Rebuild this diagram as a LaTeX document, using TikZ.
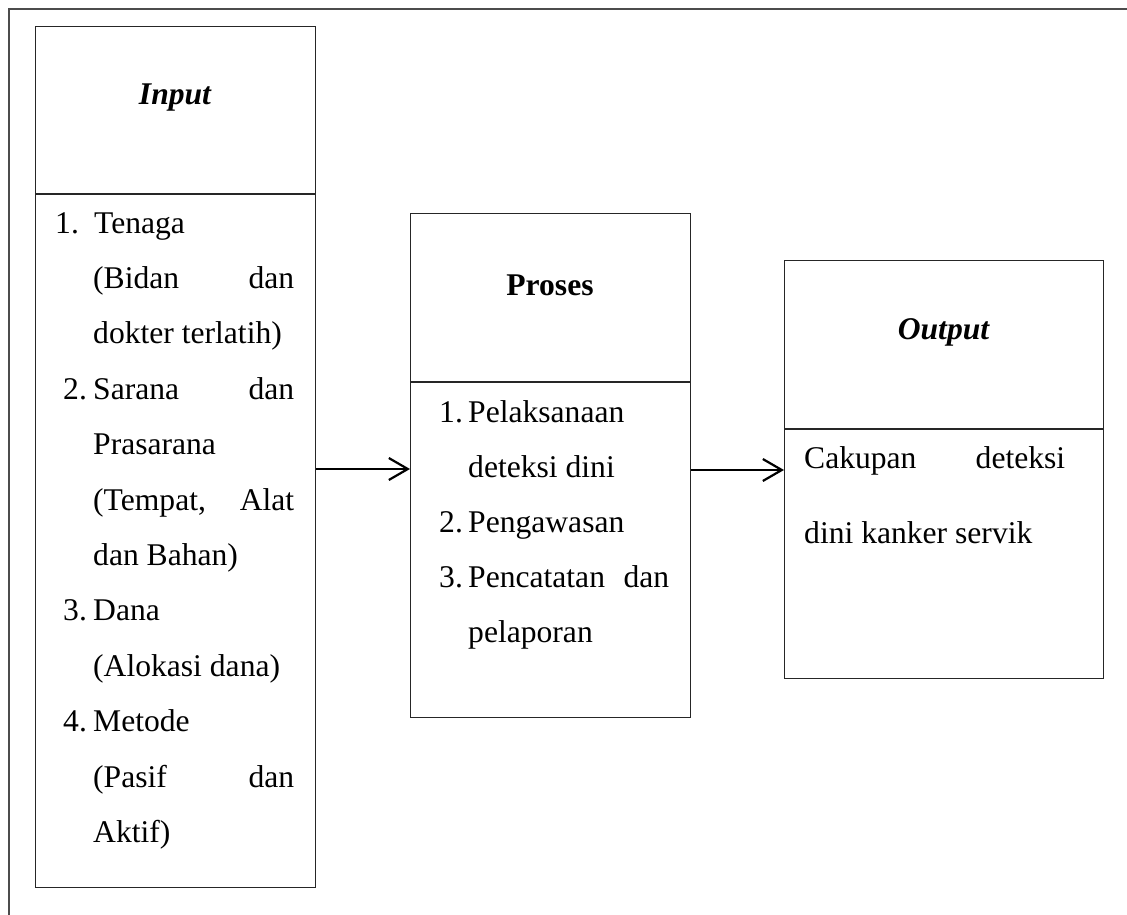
\documentclass[tikz,border=0pt]{standalone}
\usepackage{fontspec}
\setmainfont{Liberation Serif}
\usetikzlibrary{arrows.meta}
\begin{document}
\begin{tikzpicture}[x=1pt,y=-1pt,
  box/.style={draw=black!85, line width=1.3pt, rectangle, inner sep=0pt, anchor=north west},
  divline/.style={draw=black!85, line width=1.3pt},
  frame/.style={draw=black!70, line width=2pt},
  txt/.style={anchor=base west, inner sep=0pt, font=\fontsize{31.6}{38}\selectfont},
  head/.style={anchor=base, inner sep=0pt, font=\fontsize{31.6}{38}\selectfont\bfseries},
  arr/.style={draw=black, line width=2.2pt, -{Straight Barb[length=19pt,width=22pt]}}]
\useasboundingbox (0,0) rectangle (1127,915);
\fill[white] (0,0) rectangle (1127,915);
% outer frame
\draw[frame] (9,915) -- (9,9.3) -- (1127,9.3);
% boxes
\node[box, minimum width=280pt, minimum height=861.3pt] (inbox) at (35,25.7) {};
\node[box, minimum width=280pt, minimum height=504pt] (probox) at (410,213) {};
\node[box, minimum width=319pt, minimum height=418pt] (outbox) at (784,260) {};
% dividers
\coordinate (d1) at (0,194);
\coordinate (d2) at (0,382);
\coordinate (d3) at (0,429);
\draw[divline] (inbox.west |- d1) -- (inbox.east |- d1);
\draw[divline] (probox.west |- d2) -- (probox.east |- d2);
\draw[divline] (outbox.west |- d3) -- (outbox.east |- d3);
% headers
\node[head] (inhead) at (175,105) {\itshape Input};
\node[head] (prohead) at (550,295) {Proses};
\node[head] (outhead) at (943.5,339) {\itshape Output};
% input body
\node[txt] (in1) at (55,233) {\makebox[39pt][l]{1.}Tenaga};
\node[txt] (in2) at (93,288.4) {\hbox to 201pt{(Bidan\hfill dan}};
\node[txt] (in3) at (93,343.8) {dokter terlatih)};
\node[txt] (in4) at (63,399.2) {\makebox[30pt][l]{2.}\hbox to 201pt{Sarana\hfill dan}};
\node[txt] (in5) at (93,454.6) {Prasarana};
\node[txt] (in6) at (93,510) {\hbox to 201pt{(Tempat,\hfill Alat}};
\node[txt] (in7) at (93,565.4) {dan Bahan)};
\node[txt] (in8) at (63,620.8) {\makebox[30pt][l]{3.}Dana};
\node[txt] (in9) at (93,676.2) {(Alokasi dana)};
\node[txt] (in10) at (63,731.6) {\makebox[30pt][l]{4.}Metode};
\node[txt] (in11) at (93,787) {\hbox to 201pt{(Pasif\hfill dan}};
\node[txt] (in12) at (93,842.4) {Aktif)};
% proses body
\node[txt] (pr1) at (439,422) {\makebox[29pt][l]{1.}Pelaksanaan};
\node[txt] (pr2) at (468,477) {deteksi dini};
\node[txt] (pr3) at (439,532) {\makebox[29pt][l]{2.}Pengawasan};
\node[txt] (pr4) at (439,587) {\makebox[29pt][l]{3.}\hbox to 201pt{Pencatatan\hfill dan}};
\node[txt] (pr5) at (468,642) {pelaporan};
% output body
\node[txt] (out1) at (804,468) {\hbox to 261pt{Cakupan\hfill deteksi}};
\node[txt] (out2) at (804,543) {dini kanker servik};
% arrows
\coordinate (a1) at (0,469);
\coordinate (a2) at (0,470);
\draw[arr] (inbox.east |- a1) -- (probox.west |- a1);
\draw[arr] (probox.east |- a2) -- (outbox.west |- a2);
\end{tikzpicture}
\end{document}
